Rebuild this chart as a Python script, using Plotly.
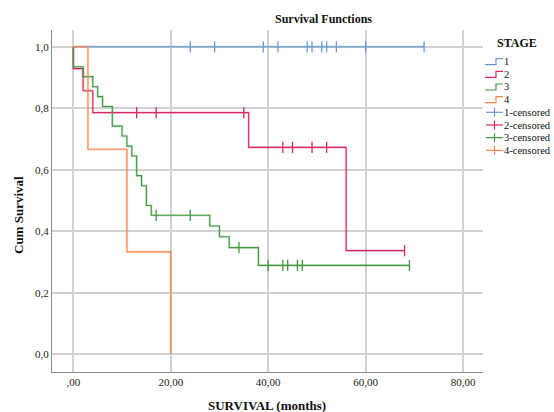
import plotly.graph_objects as go

# ---------------- data ----------------
stage_names = ["1", "2", "3", "4"]

t1 = [0, 72]
s1 = [1.0, 1.0]

t2 = [0, 0, 2, 4, 36, 56, 68]
s2 = [1.0, 0.929, 0.857, 0.786, 0.673, 0.337, 0.337]

t3 = [0, 0, 2, 4, 5, 6, 8, 10, 11, 12, 13, 14, 15, 16, 28, 30, 32, 38, 69]
s3 = [1.0, 0.935, 0.903, 0.870, 0.838, 0.806, 0.742, 0.710, 0.677, 0.645,
      0.581, 0.548, 0.484, 0.452, 0.417, 0.382, 0.347, 0.289, 0.289]

t4 = [0, 3, 11, 20]
s4 = [1.0, 0.667, 0.333, 0.0]

c1_t = [24, 29, 39, 42, 48, 49, 51, 52, 54, 60, 72]
c1_s = [1.0, 1.0, 1.0, 1.0, 1.0, 1.0, 1.0, 1.0, 1.0, 1.0, 1.0]

c2_t = [13, 17, 35, 43, 45, 49, 52, 68]
c2_s = [0.786, 0.786, 0.786, 0.673, 0.673, 0.673, 0.673, 0.337]

c3_t = [17, 24, 34, 40, 43, 44, 46, 47, 69]
c3_s = [0.452, 0.452, 0.347, 0.289, 0.289, 0.289, 0.289, 0.289, 0.289]

c4_t = []
c4_s = []

x_tickvals = [0, 20, 40, 60, 80]
x_ticktext = [",00", "20,00", "40,00", "60,00", "80,00"]
y_tickvals = [0.0, 0.2, 0.4, 0.6, 0.8, 1.0]
y_ticktext = ["0,0", "0,2", "0,4", "0,6", "0,8", "1,0"]

colors = ["#6a9ad6", "#d8285a", "#3f973f", "#f5874c"]
halo = ["rgba(106,154,214,0.25)", "rgba(216,40,90,0.2)", "rgba(63,151,63,0.22)", "rgba(245,135,76,0.25)"]

# ---------------- figure ----------------
W, H = 554, 412
L, R, T, B = 52, 483, 30, 372
SERIF = "Liberation Serif, Times New Roman, serif"

def px(x):
    return (x - L) / (R - L)

def py(y):
    return (B - y) / (B - T)

fig = go.Figure()

curves = [(t1, s1), (t2, s2), (t3, s3), (t4, s4)]
censors = [(c1_t, c1_s), (c2_t, c2_s), (c3_t, c3_s), (c4_t, c4_s)]

for i, (t, s) in enumerate(curves):
    fig.add_trace(go.Scatter(x=t, y=s, mode="lines", line=dict(shape="hv", color=halo[i], width=2.6),
                             hoverinfo="skip", showlegend=False))
    fig.add_trace(go.Scatter(x=t, y=s, mode="lines", line=dict(shape="hv", color=colors[i], width=1.1),
                             name=stage_names[i], showlegend=False))

for i, (t, s) in enumerate(censors):
    if not t:
        continue
    fig.add_trace(go.Scatter(x=t, y=s, mode="markers",
                             marker=dict(symbol="line-ns", size=8, color=colors[i],
                                         line=dict(width=1.3, color=colors[i])),
                             name=stage_names[i] + "-censored", showlegend=False))

# ---------------- manual legend (SPSS style, compact spacing) ----------------
shapes = []
annotations = []
annotations.append(dict(x=px(517), y=py(43), xref="paper", yref="paper", text="<b>STAGE</b>",
                        showarrow=False, font=dict(family=SERIF, size=12, color="#111"),
                        xanchor="center", yanchor="middle"))
legend_y = [61.7, 74.3, 87.0, 99.7, 112.3, 125.0, 137.7, 150.4]
labels = stage_names + [n + "-censored" for n in stage_names]
for k, ly in enumerate(legend_y):
    c = colors[k % 4]
    if k < 4:
        path = "M {x0} {y0} L {x1} {y0} L {x1} {y1} L {x2} {y1}".format(
            x0=px(485), x1=px(496), x2=px(503), y0=py(ly + 3), y1=py(ly - 3))
        shapes.append(dict(type="path", xref="paper", yref="paper", path=path,
                           line=dict(color=c, width=1.2)))
    else:
        shapes.append(dict(type="line", xref="paper", yref="paper", x0=px(486), x1=px(503),
                           y0=py(ly), y1=py(ly), line=dict(color=c, width=1.2)))
        shapes.append(dict(type="line", xref="paper", yref="paper", x0=px(494.5), x1=px(494.5),
                           y0=py(ly - 4.5), y1=py(ly + 4.5), line=dict(color=c, width=1.2)))
    annotations.append(dict(x=px(503), y=py(ly), xref="paper", yref="paper", text=labels[k],
                            showarrow=False, font=dict(family=SERIF, size=10.5, color="#111"),
                            xanchor="left", yanchor="middle", borderpad=0))

# titles
annotations.append(dict(x=px(323), y=py(19), xref="paper", yref="paper", text="<b>Survival Functions</b>",
                        showarrow=False, font=dict(family=SERIF, size=12, color="#111"),
                        xanchor="center", yanchor="middle"))
annotations.append(dict(x=px(267), y=py(405), xref="paper", yref="paper", text="<b>SURVIVAL (months)</b>",
                        showarrow=False, font=dict(family=SERIF, size=13, color="#111"),
                        xanchor="center", yanchor="middle"))
annotations.append(dict(x=px(18), y=py(215), xref="paper", yref="paper", text="<b>Cum Survival</b>",
                        showarrow=False, textangle=-90, font=dict(family=SERIF, size=13, color="#111"),
                        xanchor="center", yanchor="middle"))

fig.update_layout(
    width=W, height=H, autosize=False,
    margin=dict(l=L, r=W - R, t=T, b=H - B, pad=0),
    paper_bgcolor="white", plot_bgcolor="white",
    showlegend=False,
    shapes=shapes, annotations=annotations,
    xaxis=dict(range=[-4.38, 84.1], tickvals=x_tickvals, ticktext=x_ticktext,
               showgrid=True, gridcolor="#d2d2d2", gridwidth=1.5, zeroline=False,
               showline=True, linecolor="#8a8a8a", linewidth=1, ticks="",
               tickfont=dict(family=SERIF, size=11, color="#222")),
    yaxis=dict(range=[-0.0576, 1.0546], tickvals=y_tickvals, ticktext=y_ticktext,
               showgrid=True, gridcolor="#d2d2d2", gridwidth=1.5, zeroline=False,
               showline=True, linecolor="#8a8a8a", linewidth=1, ticks="",
               tickfont=dict(family=SERIF, size=11, color="#222")),
)

fig.write_html("out.html", config={"displayModeBar": False},
               post_script="document.body.style.margin='0';document.body.style.overflow='hidden';")
